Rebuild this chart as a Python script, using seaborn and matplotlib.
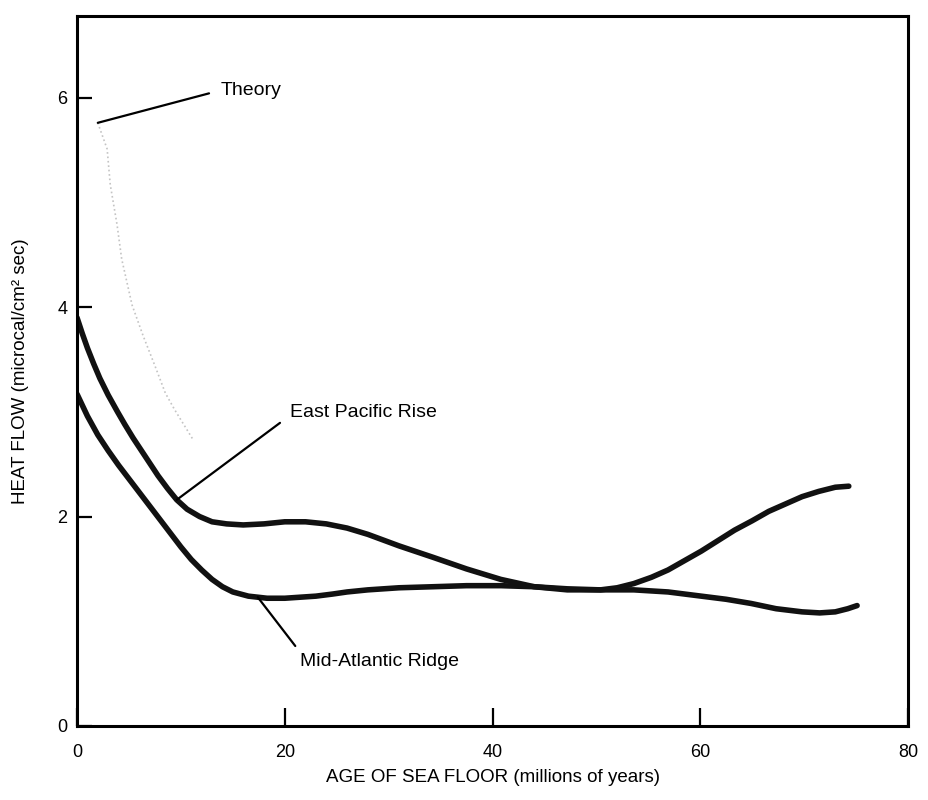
import matplotlib
matplotlib.use('Agg')
import matplotlib.pyplot as plt
import pandas as pd
import seaborn as sns

# Values (age in millions of years, heat flow in microcal/cm2 sec)
age_epr = [0, 0.5, 1.0, 1.6, 2.2, 3.0, 3.9, 4.6, 5.4, 6.2, 7.0, 7.8, 8.7, 9.6, 10.6,
           11.8, 13.0, 14.4, 16.0, 18.0, 20.0, 22.0, 24.0, 26.0, 28.0, 31.0, 34.3,
           37.5, 40.8, 44.0, 47.2, 50.4, 52.0, 53.6, 55.3, 56.9, 58.5, 60.1, 61.7,
           63.3, 65.0, 66.6, 68.2, 69.8, 71.4, 73.0, 74.3]
flow_epr = [3.90, 3.75, 3.61, 3.46, 3.32, 3.16, 3.00, 2.88, 2.75, 2.63, 2.51, 2.39,
            2.27, 2.16, 2.07, 2.00, 1.95, 1.93, 1.92, 1.93, 1.95, 1.95, 1.93, 1.89,
            1.83, 1.72, 1.61, 1.50, 1.40, 1.33, 1.30, 1.30, 1.32, 1.36, 1.42, 1.49,
            1.58, 1.67, 1.77, 1.87, 1.96, 2.05, 2.12, 2.19, 2.24, 2.28, 2.29]

age_mar = [0, 1.0, 2.0, 3.0, 4.0, 5.0, 6.0, 7.0, 8.0, 9.0, 10.0, 11.0, 12.0, 13.0,
           14.0, 15.0, 16.5, 18.3, 20.0, 21.5, 23.0, 24.6, 26.0, 28.0, 31.0, 34.3,
           37.5, 40.8, 44.0, 47.2, 50.4, 53.6, 56.9, 60.1, 62.5, 64.9, 67.3, 69.8,
           71.5, 73.0, 74.2, 75.1]
flow_mar = [3.17, 2.96, 2.78, 2.63, 2.49, 2.36, 2.23, 2.10, 1.97, 1.84, 1.71, 1.59,
            1.49, 1.40, 1.33, 1.28, 1.24, 1.22, 1.22, 1.23, 1.24, 1.26, 1.28, 1.30,
            1.32, 1.33, 1.34, 1.34, 1.33, 1.31, 1.30, 1.30, 1.28, 1.24, 1.21, 1.17,
            1.12, 1.09, 1.08, 1.09, 1.12, 1.15]

age_theory = [2.0, 2.9, 3.2, 3.85, 4.3, 5.3, 6.35, 7.5, 8.5, 9.4, 11.2]
flow_theory = [5.76, 5.51, 5.17, 4.79, 4.46, 4.02, 3.73, 3.44, 3.18, 3.02, 2.73]

x_ticks = [0, 20, 40, 60, 80]
y_ticks = [0, 2, 4, 6]

df_epr = pd.DataFrame({'age': age_epr, 'flow': flow_epr})
df_mar = pd.DataFrame({'age': age_mar, 'flow': flow_mar})
df_theory = pd.DataFrame({'age': age_theory, 'flow': flow_theory})

sns.set_style('white')
plt.rcParams['font.family'] = ['Liberation Sans', 'DejaVu Sans']
plt.rcParams['text.color'] = 'black'
plt.rcParams['axes.labelcolor'] = 'black'
plt.rcParams['xtick.color'] = 'black'
plt.rcParams['ytick.color'] = 'black'

fig = plt.figure(figsize=(9.29, 8.0), dpi=100)
ax = fig.add_axes([0.0829, 0.0925, 0.8945, 0.8875])

# faint theoretical curve, then the two measured profiles
sns.lineplot(data=df_theory, x='age', y='flow', ax=ax, color='#c4c4c4',
             linestyle=':', linewidth=1.2, sort=False)
sns.lineplot(data=df_epr, x='age', y='flow', ax=ax, color='#111111',
             linewidth=4, sort=False, solid_capstyle='round', solid_joinstyle='round')
sns.lineplot(data=df_mar, x='age', y='flow', ax=ax, color='#111111',
             linewidth=4, sort=False, solid_capstyle='round', solid_joinstyle='round')

ax.set_xlim(0, 80)
ax.set_ylim(0, 6.78)
ax.set_xticks(x_ticks)
ax.set_yticks(y_ticks)
ax.set_xticklabels([str(t) for t in x_ticks])
ax.set_yticklabels([str(t) for t in y_ticks])
ax.tick_params(axis='both', direction='in', width=1.6, colors='black', labelsize=13,
               bottom=True, left=True)
ax.tick_params(axis='x', length=13, pad=13)
ax.tick_params(axis='y', length=11, pad=7)
for side in ['left', 'right', 'top', 'bottom']:
    ax.spines[side].set_visible(True)
    ax.spines[side].set_color('black')
    ax.spines[side].set_linewidth(2.2)

ax.set_xlabel('AGE OF SEA FLOOR (millions of years)', fontsize=13.5, labelpad=6)
ax.set_ylabel('HEAT FLOW (microcal/cm² sec)', fontsize=13.5, labelpad=20)

# leader lines pointing from the labels to the curves
leader = dict(arrowstyle='-', color='black', lw=1.6, shrinkB=0)
ax.annotate('Theory', xy=(2.0, 5.76), xytext=(13.8, 6.07), ha='left', va='center',
            fontsize=14, arrowprops=dict(leader, relpos=(0, 0.5), shrinkA=6))
ax.annotate('East Pacific Rise', xy=(9.6, 2.16), xytext=(20.5, 2.99), ha='left',
            va='center', fontsize=14,
            arrowprops=dict(leader, relpos=(0, 0.35), shrinkA=6))
ax.annotate('Mid-Atlantic Ridge', xy=(17.4, 1.23), xytext=(21.5, 0.62), ha='left',
            va='center', fontsize=14,
            arrowprops=dict(leader, relpos=(0, 1.0), shrinkA=3))

fig.savefig('out.png', dpi=100)
